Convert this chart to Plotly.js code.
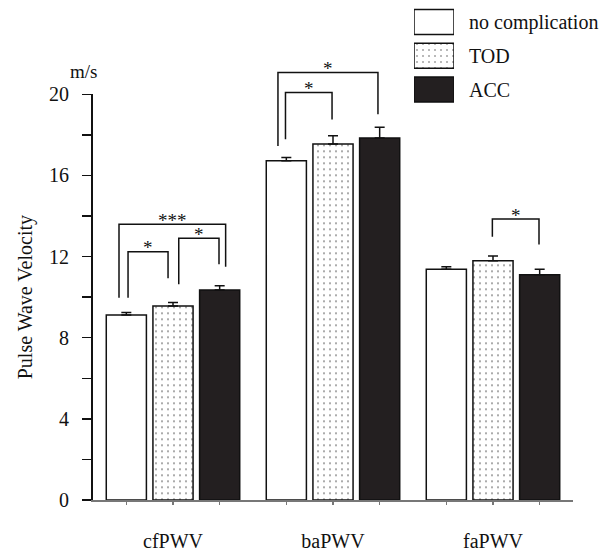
<!DOCTYPE html>
<html>
<head>
<meta charset="utf-8">
<script src="https://cdn.plot.ly/plotly-3.0.1.min.js"></script>
<style>html,body{margin:0;padding:0;background:#fff;}#chart{width:615px;height:553px;}</style>
</head>
<body>
<div id="chart"></div>
<script>
// ---- data ----
const categories = ['cfPWV', 'baPWV', 'faPWV'];
const seriesNames = ['no complication', 'TOD', 'ACC'];
const noComplication = [9.12, 16.72, 11.38];
const noComplicationErr = [0.12, 0.17, 0.12];
const tod = [9.56, 17.55, 11.79];
const todErr = [0.18, 0.41, 0.24];
const acc = [10.35, 17.84, 11.10];
const accErr = [0.21, 0.53, 0.27];
const yTickVals = [0, 4, 8, 12, 16, 20];
const yUnit = 'm/s';
const yTitle = 'Pulse Wave Velocity';
// significance brackets: left/right leg x (category units), top level, leg ends, label
const bracketX0 = [-0.3375, -0.281, 0.036, 0.656, 0.703, 1.996];
const bracketX1 = [0.329, -0.031, 0.2875, 1.281, 0.994, 2.2875];
const bracketTop = [13.59, 12.24, 12.90, 21.08, 20.09, 13.85];
const bracketY0 = [9.97, 9.97, 10.63, 17.45, 17.79, 12.98];
const bracketY1 = [11.50, 10.93, 11.62, 19.02, 18.76, 12.60];
const bracketLabel = ['***', '*', '*', '*', '*', '*'];

// ---- styling ----
const FONT = 'Liberation Serif';
const fills = ['#ffffff', '#ffffff', '#231f20'];
const patterns = ['', '.', ''];
const values = [noComplication, tod, acc];
const errs = [noComplicationErr, todErr, accErr];

const W = 615, H = 553;
const M = {l: 93, r: 42, t: 5, b: 53};
const plotH = H - M.t - M.b;
const mainFrac = 405.7 / plotH;
const yMax = 20;

const traces = [];
seriesNames.forEach((name, i) => {
  traces.push({
    type: 'bar',
    name: name,
    x: categories,
    y: values[i],
    xaxis: 'x', yaxis: 'y',
    marker: {
      color: fills[i],
      line: {color: '#111', width: 1.5},
      pattern: {shape: patterns[i], size: 6, solidity: 0.09, fgcolor: '#222', bgcolor: '#ffffff', fillmode: 'overlay'}
    },
    error_y: {type: 'data', symmetric: false, array: errs[i], arrayminus: errs[i].map(() => 0),
              color: '#111', thickness: 1.5, width: 5},
    showlegend: false,
    hoverinfo: 'skip'
  });
});

// tick marks under each bar (linear overlay axis)
const nS = seriesNames.length;
const slot = (1 - 0.125) / nS;
const barCenters = [];
categories.forEach((c, g) => { for (let s = 0; s < nS; s++) barCenters.push(g + (s - (nS - 1) / 2) * slot); });

// brackets
const annotations = [];
bracketLabel.forEach((lab, k) => {
  traces.push({
    type: 'scatter', mode: 'lines',
    x: [bracketX0[k], bracketX0[k], bracketX1[k], bracketX1[k]],
    y: [bracketY0[k], bracketTop[k], bracketTop[k], bracketY1[k]],
    xaxis: 'x2', yaxis: 'y2',
    line: {color: '#111', width: 1.5},
    showlegend: false, hoverinfo: 'skip'
  });
  annotations.push({
    xref: 'x2', yref: 'y2',
    x: (bracketX0[k] + bracketX1[k]) / 2, y: bracketTop[k],
    text: lab, showarrow: false, yanchor: 'middle', yshift: 4,
    font: {family: FONT, size: 19, color: '#111'}
  });
});

// legend drawn as a small bar subplot
traces.push({
  type: 'bar', orientation: 'h',
  y: seriesNames, x: seriesNames.map(() => 1),
  xaxis: 'x3', yaxis: 'y3', width: 0.74,
  marker: {
    color: fills,
    line: {color: '#111', width: 1.5},
    pattern: {shape: patterns, size: 6, solidity: 0.09, fgcolor: '#222', bgcolor: '#ffffff', fillmode: 'overlay'}
  },
  showlegend: false, hoverinfo: 'skip'
});

annotations.push({
  xref: 'paper', yref: 'paper',
  x: (83 - M.l) / (W - M.l - M.r), y: (500 - 72) / plotH,
  text: yUnit, showarrow: false, xanchor: 'center', yanchor: 'middle',
  font: {family: FONT, size: 19, color: '#111'}
});

const plotW = W - M.l - M.r;
const layout = {
  width: W, height: H,
  margin: M,
  paper_bgcolor: '#ffffff',
  plot_bgcolor: 'rgba(0,0,0,0)',
  barmode: 'group',
  bargap: 0.125,
  bargroupgap: 0.14,
  showlegend: false,
  font: {family: FONT, size: 19, color: '#111'},
  xaxis: {
    domain: [0, 1], anchor: 'y', type: 'category', range: [-0.5, 2.5],
    showline: true, linecolor: '#777', linewidth: 1.5,
    ticks: '', showgrid: false, zeroline: false,
    ticklabelstandoff: 22,
    tickfont: {family: FONT, size: 20, color: '#111'}
  },
  yaxis: {
    domain: [0, mainFrac], anchor: 'x', range: [0, yMax],
    tickvals: yTickVals, ticks: 'outside', ticklen: 9, tickwidth: 1.5, tickcolor: '#111',
    minor: {dtick: 2, tick0: 0, ticks: 'outside', ticklen: 9, tickwidth: 1.5, tickcolor: '#111', showgrid: false},
    showline: true, linecolor: '#111', linewidth: 2,
    showgrid: false, zeroline: false,
    ticklabelstandoff: 9,
    tickfont: {family: FONT, size: 20, color: '#111'},
    title: {text: yTitle, standoff: 11, font: {family: FONT, size: 20, color: '#111'}}
  },
  xaxis2: {
    domain: [0, 1], anchor: 'y2', range: [-0.5, 2.5],
    tickvals: barCenters, ticks: 'outside', ticklen: 4, tickwidth: 1.5, tickcolor: '#777',
    showticklabels: false, showline: false, showgrid: false, zeroline: false
  },
  yaxis2: {
    domain: [0, 1], anchor: 'x2', range: [0, yMax / mainFrac], visible: false
  },
  xaxis3: {
    domain: [(414 - M.l) / plotW, (454 - M.l) / plotW], anchor: 'y3', range: [0, 1], visible: false
  },
  yaxis3: {
    domain: [(500 - 106.4) / plotH, 1], anchor: 'x3', side: 'right', autorange: 'reversed',
    ticks: '', showline: false, showgrid: false, zeroline: false,
    ticklabelstandoff: 14,
    tickfont: {family: FONT, size: 20, color: '#111'}
  },
  annotations: annotations
};

Plotly.newPlot('chart', traces, layout, {staticPlot: true, displayModeBar: false});
</script>
</body>
</html>
